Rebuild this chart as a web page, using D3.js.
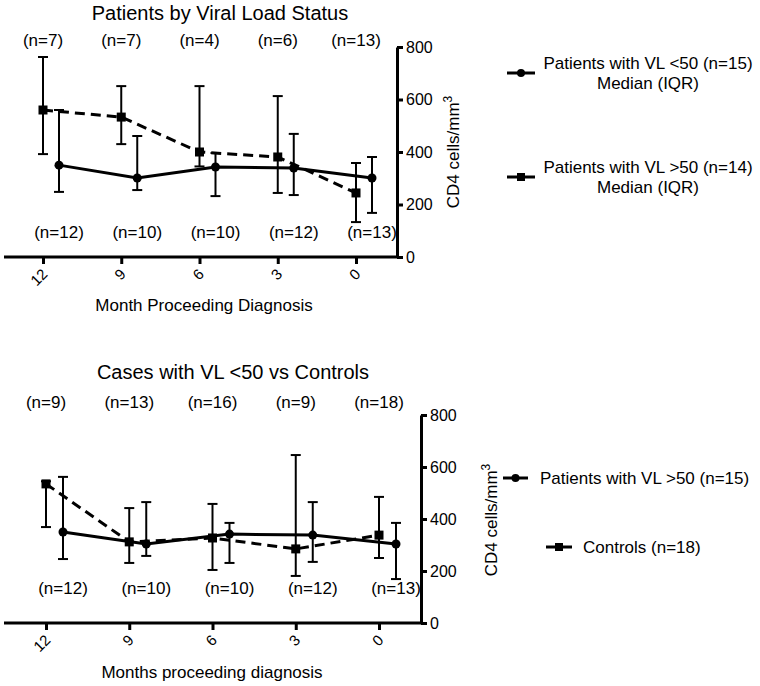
<!DOCTYPE html>
<html><head><meta charset="utf-8">
<script src="https://cdn.jsdelivr.net/npm/d3@7"></script>
<style>body{margin:0;background:#fff}svg{font-family:"Liberation Sans",Arial,sans-serif}</style>
</head><body><svg id="c" width="760" height="686"></svg>
<script>
const months = [12, 9, 6, 3, 0];
const yTicks = [0, 200, 400, 600, 800];
// Chart 1
const c1Title = "Patients by Viral Load Status";
const c1XTitle = "Month Proceeding Diagnosis";
const c1TopN = ["(n=7)", "(n=7)", "(n=4)", "(n=6)", "(n=13)"];
const c1BotN = ["(n=12)", "(n=10)", "(n=10)", "(n=12)", "(n=13)"];
const c1LowMed = [350, 301, 343, 339, 301];
const c1LowQ1 = [248, 255, 232, 236, 168];
const c1LowQ3 = [560, 461, 396, 469, 381];
const c1HighMed = [560, 533, 400, 381, 244];
const c1HighQ1 = [392, 430, 345, 244, 133];
const c1HighQ3 = [762, 651, 651, 613, 358];
const c1Legend = [["Patients with VL <50 (n=15)", "Median (IQR)"], ["Patients with VL >50 (n=14)", "Median (IQR)"]];
// Chart 2
const c2Title = "Cases with VL <50 vs Controls";
const c2XTitle = "Months proceeding diagnosis";
const c2TopN = ["(n=9)", "(n=13)", "(n=16)", "(n=9)", "(n=18)"];
const c2BotN = ["(n=12)", "(n=10)", "(n=10)", "(n=12)", "(n=13)"];
const c2PatMed = [350, 304, 342, 338, 304];
const c2PatQ1 = [246, 258, 231, 235, 169];
const c2PatQ3 = [562, 465, 385, 465, 385];
const c2CtlMed = [535, 312, 327, 285, 338];
const c2CtlQ1 = [369, 231, 204, 181, 250];
const c2CtlQ3 = [545, 442, 458, 646, 485];
const c2Legend = ["Patients with VL >50 (n=15)", "Controls (n=18)"];

const svg = d3.select("#c");
const FONT = "17px";

function drawChart(cfg) {
  const g = svg.append("g");
  const x = d3.scaleLinear().domain([12, 0]).range(cfg.xr);
  const y = d3.scaleLinear().domain([0, 800]).range(cfg.yr);
  g.append("text").attr("x", cfg.titleX).attr("y", cfg.titleY).attr("text-anchor", "middle")
    .style("font-size", "20px").text(cfg.title);
  g.selectAll(".tn").data(cfg.topN).join("text").attr("x", (d, i) => x(months[i])).attr("y", cfg.topNY)
    .attr("text-anchor", "middle").style("font-size", FONT).text(d => d);
  g.selectAll(".bn").data(cfg.botN).join("text").attr("x", (d, i) => x(months[i]) + cfg.botNOff).attr("y", cfg.botNY)
    .attr("text-anchor", "middle").style("font-size", FONT).text(d => d);
  const xa = g.append("g").attr("transform", `translate(0,${cfg.yr[0]})`)
    .call(d3.axisBottom(x).tickValues(months).tickSize(7).tickFormat(d3.format("d")));
  xa.select(".domain").remove();
  xa.selectAll(".tick line").attr("stroke", "#000").attr("stroke-width", 3);
  xa.selectAll(".tick text").style("font-size", "15px").attr("font-family", null)
    .attr("text-anchor", "end").attr("dy", null).attr("y", 0)
    .attr("transform", "translate(5,18) rotate(-45)");
  g.append("line").attr("x1", cfg.axL).attr("x2", cfg.axX).attr("y1", cfg.yr[0]).attr("y2", cfg.yr[0])
    .attr("stroke", "#000").attr("stroke-width", 3);
  const ya = g.append("g").attr("transform", `translate(${cfg.axX},0)`)
    .call(d3.axisRight(y).tickValues(yTicks).tickSize(6).tickSizeOuter(0).tickPadding(3));
  ya.select(".domain").attr("stroke-width", 3);
  ya.selectAll(".tick line").attr("stroke-width", 3);
  ya.selectAll(".tick text").style("font-size", "16px").attr("font-family", null);
  const yt = g.append("text").attr("transform", `translate(${cfg.ytX},${cfg.ytY}) rotate(-90)`)
    .attr("text-anchor", "middle").style("font-size", "17px");
  yt.append("tspan").text("CD4 cells/mm");
  yt.append("tspan").attr("baseline-shift", "super").style("font-size", "12px").text("3");
  cfg.series.forEach(s => {
    const xs = i => x(months[i]) + s.dx;
    const line = d3.line().x((d, i) => xs(i)).y(d => y(d));
    g.append("path").attr("d", line(s.med)).attr("fill", "none").attr("stroke", "#000")
      .attr("stroke-width", 3).attr("stroke-dasharray", s.dash ? "10,6" : null);
    s.med.forEach((m, i) => {
      const cx = xs(i);
      g.append("line").attr("x1", cx).attr("x2", cx).attr("y1", y(s.q1[i])).attr("y2", y(s.q3[i]))
        .attr("stroke", "#000").attr("stroke-width", 2);
      [s.q1[i], s.q3[i]].forEach(v => g.append("line").attr("x1", cx - 5).attr("x2", cx + 5)
        .attr("y1", y(v)).attr("y2", y(v)).attr("stroke", "#000").attr("stroke-width", 2));
      if (s.shape === "circle") g.append("circle").attr("cx", cx).attr("cy", y(m)).attr("r", 4.5);
      else g.append("rect").attr("x", cx - 4.5).attr("y", y(m) - 4.5).attr("width", 9).attr("height", 9);
    });
  });
  return g;
}

function legendSym(x0, x1, yy, shape) {
  svg.append("line").attr("x1", x0).attr("x2", x1).attr("y1", yy).attr("y2", yy).attr("stroke", "#000").attr("stroke-width", 3);
  const cx = (x0 + x1) / 2;
  if (shape === "circle") svg.append("circle").attr("cx", cx).attr("cy", yy).attr("r", 4);
  else svg.append("rect").attr("x", cx - 4).attr("y", yy - 4).attr("width", 8).attr("height", 8);
}

drawChart({
  title: c1Title, titleX: 220, titleY: 20, xr: [43, 356], yr: [257, 47],
  topN: c1TopN, topNY: 46, botN: c1BotN, botNY: 238, botNOff: 16,
  axL: 4, axX: 397, ytX: 459, ytY: 152,
  series: [
    {med: c1HighMed, q1: c1HighQ1, q3: c1HighQ3, dx: 0, dash: true, shape: "rect"},
    {med: c1LowMed, q1: c1LowQ1, q3: c1LowQ3, dx: 16, dash: false, shape: "circle"}
  ]
});
svg.append("text").attr("x", 204).attr("y", 311).attr("text-anchor", "middle").style("font-size", FONT).text(c1XTitle);

drawChart({
  title: c2Title, titleX: 233, titleY: 379, xr: [46, 379], yr: [623, 415],
  topN: c2TopN, topNY: 408, botN: c2BotN, botNY: 594, botNOff: 17,
  axL: 4, axX: 421, ytX: 497, ytY: 520,
  series: [
    {med: c2CtlMed, q1: c2CtlQ1, q3: c2CtlQ3, dx: 0, dash: true, shape: "rect"},
    {med: c2PatMed, q1: c2PatQ1, q3: c2PatQ3, dx: 17, dash: false, shape: "circle"}
  ]
});
svg.append("text").attr("x", 212).attr("y", 678).attr("text-anchor", "middle").style("font-size", FONT).text(c2XTitle);

legendSym(507, 535, 73, "circle");
legendSym(507, 535, 177, "rect");
c1Legend.forEach((lines, k) => {
  const base = k === 0 ? 69 : 173;
  lines.forEach((t, j) => svg.append("text").attr("x", 648).attr("y", base + j * 20)
    .attr("text-anchor", "middle").style("font-size", FONT).text(t));
});
legendSym(503, 528, 478, "circle");
legendSym(546, 572, 547, "rect");
svg.append("text").attr("x", 540).attr("y", 484).style("font-size", FONT).text(c2Legend[0]);
svg.append("text").attr("x", 583).attr("y", 553).style("font-size", FONT).text(c2Legend[1]);
</script></body></html>
